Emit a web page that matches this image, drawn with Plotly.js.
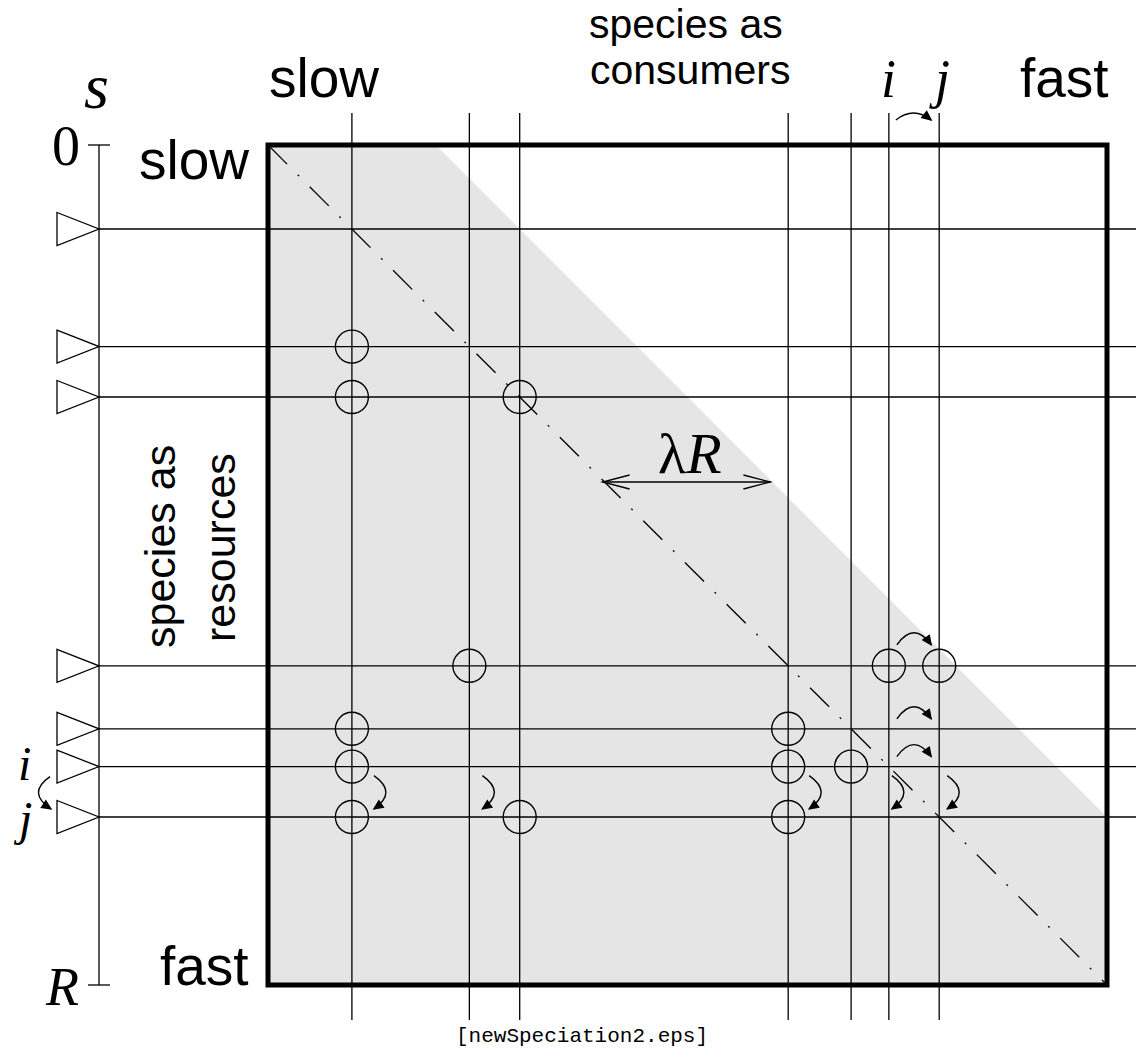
<!DOCTYPE html>
<html><head><meta charset="utf-8">
<script src="https://cdn.plot.ly/plotly-3.0.1.min.js"></script>
<style>html,body{margin:0;padding:0;background:#fff}#chart{width:1136px;height:1062px}</style>
</head><body><div id="chart"></div>
<script>
// ---------- data ----------
const R = 100;                 // niche axis runs from 0 (slow) to R (fast)
const lambda = 0.2;            // feeding range width is lambda*R
const species = [10, 24, 30, 62, 69.5, 74, 80];   // niche values s of the species
// trophic links: consumer niche value (column) and resource niche value (row)
const linkConsumer = [10, 10, 30, 24, 74, 80, 10, 62, 10, 62, 69.5, 10, 30, 62];
const linkResource = [24, 30, 30, 62, 62, 62, 69.5, 69.5, 74, 74, 74, 80, 80, 80];
const iSpecies = 74, jSpecies = 80;                 // speciation i -> j
const moveCols = [10, 24, 62, 74, 80];              // consumers whose link on i moves to j
const moveRows = [62, 69.5, 74];                    // resources whose link from i moves to j

// ---------- geometry (pixels) ----------
const W = 1136, H = 1062, PX0 = 268, PX1 = 1107, PY0 = 145, PY1 = 985;
const SX = (PX1 - PX0) / R, SY = (PY1 - PY0) / R;
const ux = p => p / SX, uy = p => p / SY;
const X = px => (px - PX0) / SX, Y = py => (py - PY0) / SY;
const xRange = [X(0), X(W)], yRange = [Y(H), Y(0)];
const AX = X(99);              // left niche axis
const LW = 1.3;
const shapes = [];
const line = (x0, y0, x1, y1, w, extra) => shapes.push(Object.assign({type: 'line', xref: 'x', yref: 'y', x0, y0, x1, y1, line: {color: '#000', width: w || LW}}, extra || {}));

// shaded feeding region (below x = y + lambda R)
shapes.push({type: 'path', xref: 'x', yref: 'y', layer: 'below',
  path: `M0,0 L${lambda * R},0 L${R},${R - lambda * R} L${R},${R} L0,${R} Z`,
  fillcolor: '#e5e5e5', line: {width: 0}});
// diagonal
line(0, 0, R, R, 1.3, {line: {color: '#000', width: 1.3, dash: '27px,15px,2px,15px'}});
// species lines
species.forEach(s => {
  line(s, Y(113), s, Y(1020));
  line(AX, s, xRange[1] + 1, s);
});
// left axis
line(AX, 0, AX, R);
line(AX - ux(11), 0, AX + ux(11), 0);
line(AX - ux(11), R, AX + ux(11), R);
species.forEach(s => {
  shapes.push({type: 'path', xref: 'x', yref: 'y',
    path: `M${AX - ux(42)},${s - uy(16.5)} L${AX},${s} L${AX - ux(42)},${s + uy(16.5)} Z`,
    fillcolor: '#fff', line: {color: '#000', width: LW}});
});
// box
shapes.push({type: 'rect', xref: 'x', yref: 'y', x0: 0, y0: 0, x1: R, y1: R, line: {color: '#000', width: 5}});

// lambda R double arrow
const yl = Y(482);
const xl0 = yl - ux(2), xl1 = yl + lambda * R - ux(2);
line(xl0, yl, xl1, yl);
const chev = (tx, dir) => shapes.push({type: 'path', xref: 'x', yref: 'y',
  path: `M${tx + dir * ux(27)},${yl - uy(7)} L${tx},${yl} L${tx + dir * ux(27)},${yl + uy(7)}`,
  line: {color: '#000', width: LW}});
chev(xl0, 1); chev(xl1, -1);

// curved arrows
function curvedArrow(x0, y0, x2, y2, bx, by) {
  const cx = (x0 + x2) / 2 + ux(bx), cy = (y0 + y2) / 2 + uy(by);
  shapes.push({type: 'path', xref: 'x', yref: 'y', path: `M${x0},${y0} Q${cx},${cy} ${x2},${y2}`, line: {color: '#000', width: 1.4}});
  let dx = (x2 - cx) * SX, dy = (y2 - cy) * SY; const L = Math.hypot(dx, dy); dx /= L; dy /= L;
  const len = 11, hw = 5;
  const tip = [x2 + ux(dx * 1.5), y2 + uy(dy * 1.5)];
  const base = [tip[0] - ux(dx * len), tip[1] - uy(dy * len)];
  const a = [base[0] + ux(-dy * hw), base[1] + uy(dx * hw)];
  const b = [base[0] - ux(-dy * hw), base[1] - uy(dx * hw)];
  shapes.push({type: 'path', xref: 'x', yref: 'y', path: `M${tip[0]},${tip[1]} L${a[0]},${a[1]} L${b[0]},${b[1]} Z`, fillcolor: '#000', line: {width: 0}});
}
const hasLink = (c, r) => linkConsumer.some((v, k) => v === c && linkResource[k] === r);
// horizontal (consumer side) moves
moveRows.forEach(r => {
  const off = (hasLink(iSpecies, r) || hasLink(jSpecies, r)) ? 21 : 10;
  curvedArrow(iSpecies + ux(8), r - uy(off), jSpecies - ux(8), r - uy(off), 0, -24);
});
curvedArrow(iSpecies + ux(7), Y(120), jSpecies - ux(8), Y(120), 0, -14);
// vertical (resource side) moves
const colOff = [22, 13, 21, 3, 8];
moveCols.forEach((c, k) => {
  curvedArrow(c + ux(colOff[k]), iSpecies + uy(9), c + ux(colOff[k]), jSpecies - uy(8), 24, 0);
});
curvedArrow(AX - ux(49), iSpecies + uy(10), AX - ux(48), jSpecies - uy(8), -24, 0);

// ---------- text ----------
const SANS = 'Liberation Sans, Arial, sans-serif', SERIF = 'Liberation Serif, Times New Roman, serif';
const ann = (px, py, text, size, family, extra) => Object.assign({xref: 'x', yref: 'y', x: X(px), y: Y(py), text, showarrow: false,
  xanchor: 'center', yanchor: 'middle', font: {family, size, color: '#000'}}, extra || {});
const annotations = [
  ann(686, 24, 'species as', 41, SANS),
  ann(690, 70, 'consumers', 41, SANS),
  ann(324, 78, 'slow', 55, SANS),
  ann(1064, 78, 'fast', 55, SANS),
  ann(194, 160, 'slow', 55, SANS),
  ann(204, 966, 'fast', 55, SANS),
  ann(160, 547, 'species as', 43, SANS, {textangle: -90}),
  ann(220, 548, 'resources', 43, SANS, {textangle: -90}),
  ann(96, 86, '<i>s</i>', 64, SERIF),
  ann(66, 146, '0', 56, SERIF),
  ann(62, 987, '<i>R</i>', 54, SERIF),
  {xref: 'x', yref: 'y', x: iSpecies, y: Y(79), text: '<i>i</i>', showarrow: false, font: {family: SERIF, size: 54, color: '#000'}},
  {xref: 'x', yref: 'y', x: jSpecies, y: Y(79), text: '<i>j</i>', showarrow: false, font: {family: SERIF, size: 54, color: '#000'}},
  {xref: 'x', yref: 'y', x: X(24), y: iSpecies - uy(3), text: '<i>i</i>', showarrow: false, font: {family: SERIF, size: 48, color: '#000'}},
  {xref: 'x', yref: 'y', x: X(22), y: jSpecies + uy(1), text: '<i>j</i>', showarrow: false, font: {family: SERIF, size: 48, color: '#000'}},
  ann(690, 453, 'λ<i>R</i>', 58, SERIF),
  ann(582, 1036, '[newSpeciation2.eps]', 21, 'Liberation Mono, Courier New, monospace'),
];

const traces = [{
  type: 'scatter', mode: 'markers', x: linkConsumer, y: linkResource,
  marker: {symbol: 'circle-open', size: 33, color: '#000', line: {color: '#000', width: 1.4}},
  hoverinfo: 'skip', cliponaxis: false
}];

const layout = {
  width: W, height: H, margin: {l: 0, r: 0, t: 0, b: 0},
  paper_bgcolor: '#fff', plot_bgcolor: '#fff', showlegend: false,
  xaxis: {range: xRange, visible: false, fixedrange: true},
  yaxis: {range: yRange, visible: false, fixedrange: true},
  shapes, annotations
};
Plotly.newPlot('chart', traces, layout, {staticPlot: true, displayModeBar: false});
</script></body></html>
